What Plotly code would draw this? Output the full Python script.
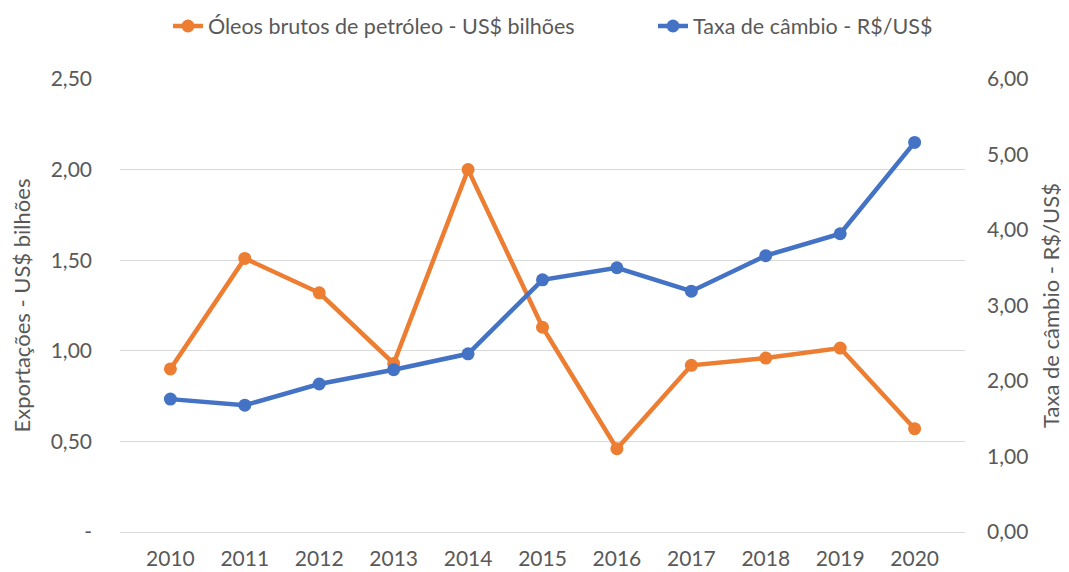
import plotly.graph_objects as go

anos = ["2010", "2011", "2012", "2013", "2014", "2015", "2016", "2017", "2018", "2019", "2020"]
oleos = [0.90, 1.51, 1.32, 0.93, 2.00, 1.13, 0.46, 0.92, 0.96, 1.015, 0.57]
cambio = [1.76, 1.68, 1.96, 2.15, 2.36, 3.34, 3.50, 3.19, 3.66, 3.95, 5.16]

left_ticks = [0, 0.5, 1.0, 1.5, 2.0, 2.5]
left_text = ["-", "0,50", "1,00", "1,50", "2,00", "2,50"]
right_ticks = [0, 1, 2, 3, 4, 5, 6]
right_text = ["0,00", "1,00", "2,00", "3,00", "4,00", "5,00", "6,00"]

ORANGE = "#ED7D31"
BLUE = "#4472C4"
GRAY = "#595959"
FONT = "Lato"

W, H = 1061, 564
L, R, T, B = 112, 104, 71, 40
PW = W - L - R

fig = go.Figure()
fig.add_trace(go.Scatter(
    x=anos, y=oleos, name="Óleos brutos de petróleo - US$ bilhões",
    mode="lines+markers", line=dict(color=ORANGE, width=4.5),
    marker=dict(color=ORANGE, size=13), yaxis="y", legend="legend"))
fig.add_trace(go.Scatter(
    x=anos, y=cambio, name="Taxa de câmbio - R$/US$",
    mode="lines+markers", line=dict(color=BLUE, width=4.5),
    marker=dict(color=BLUE, size=13), yaxis="y2", legend="legend2"))

leg_common = dict(orientation="h", xanchor="left", yanchor="middle", yref="container",
                  y=1 - 18 / H, font=dict(size=21.5, color=GRAY), bgcolor="rgba(0,0,0,0)")

fig.update_layout(
    width=W, height=H,
    margin=dict(l=L, r=R, t=T, b=B, autoexpand=False),
    paper_bgcolor="white", plot_bgcolor="white",
    font=dict(family=FONT, size=21, color=GRAY),
    showlegend=True,
    legend=dict(x=(160 - L) / PW, **leg_common),
    legend2=dict(x=(645 - L) / PW, **leg_common),
    xaxis=dict(type="category", showgrid=False, zeroline=False, showline=True,
               linecolor="#D9D9D9", linewidth=1, automargin=False,
               ticks="", ticklabelstandoff=8, tickfont=dict(size=21, color=GRAY)),
    yaxis=dict(range=[0, 2.5], tickvals=left_ticks, ticktext=left_text,
               showgrid=True, gridcolor="#D9D9D9", gridwidth=1, zeroline=False,
               showline=False, ticks="", automargin=False, ticklabelstandoff=27,
               title=dict(text="Exportações - US$ bilhões", font=dict(size=22, color=GRAY), standoff=14),
               tickfont=dict(size=21, color=GRAY)),
    yaxis2=dict(range=[0, 6], tickvals=right_ticks, ticktext=right_text,
                overlaying="y", side="right", showgrid=False, zeroline=False,
                showline=False, ticks="", automargin=False, ticklabelstandoff=21,
                title=dict(text="Taxa de câmbio - R$/US$", font=dict(size=22, color=GRAY), standoff=16),
                tickfont=dict(size=21, color=GRAY)),
)

fig.write_html("out.html")
